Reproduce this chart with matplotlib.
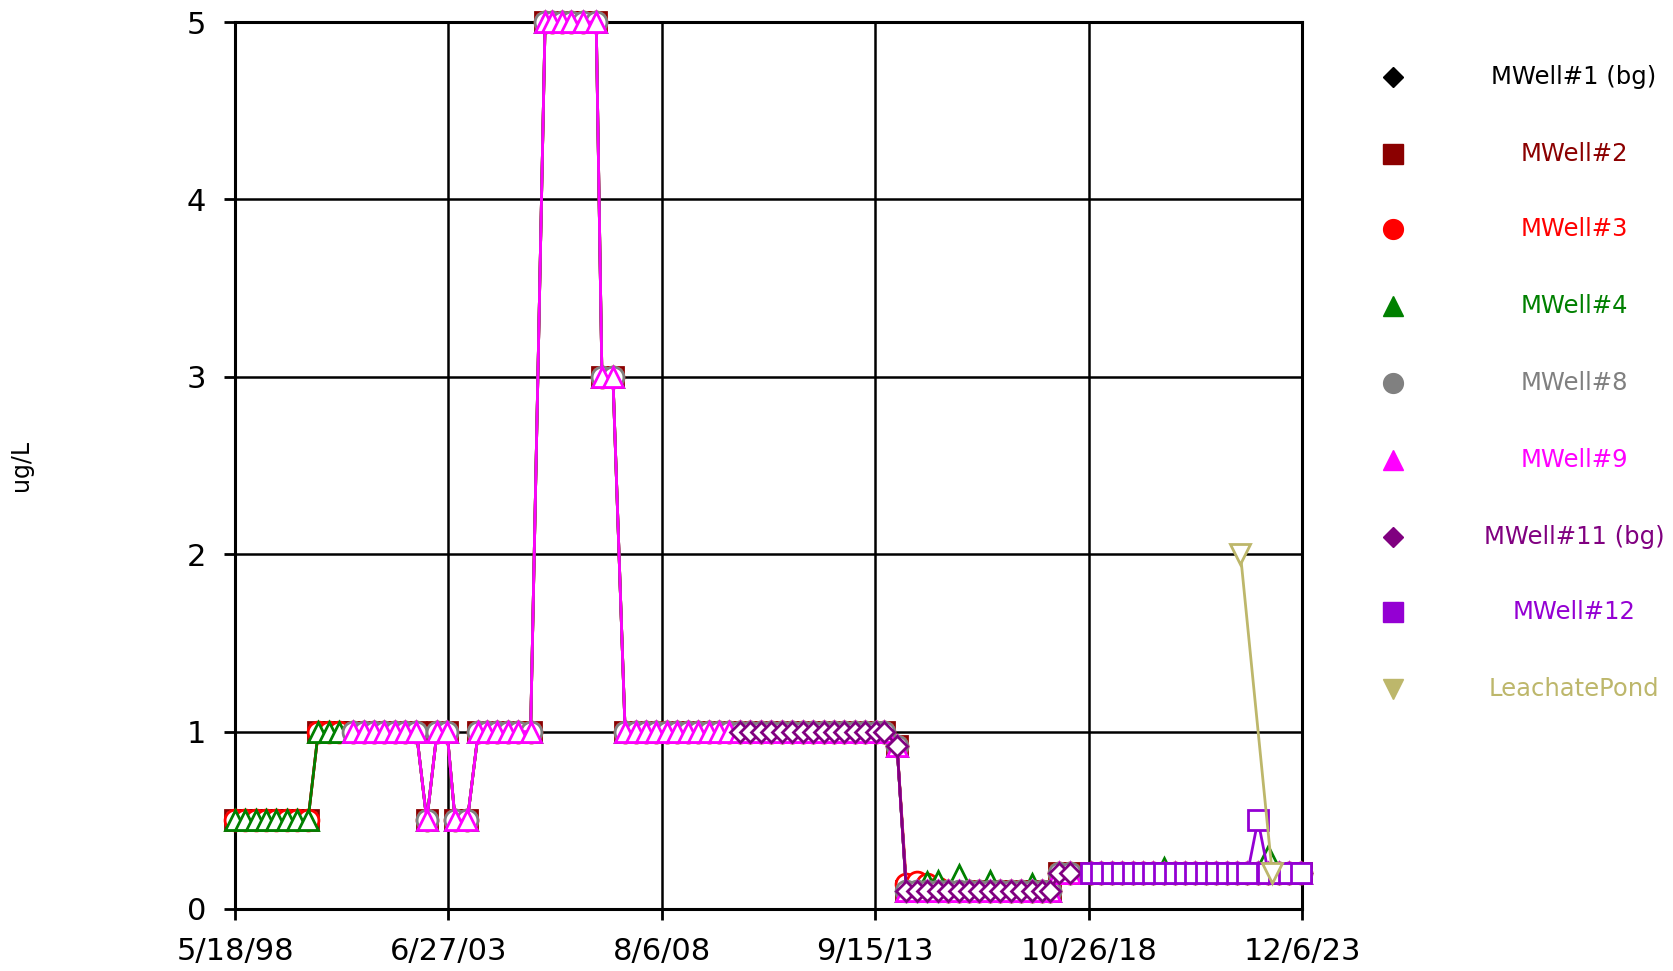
import numpy as np
import pandas as pd
import matplotlib
matplotlib.use("Agg")
import matplotlib.pyplot as plt
import matplotlib.dates as mdates

# sampling dates shared by the wells
sample_dates = [
    # 1998 - 2000
    "1998-05-18", "1998-08-15", "1998-11-15", "1999-02-15", "1999-05-15", "1999-08-15",
    "1999-11-15", "2000-02-15", "2000-05-15", "2000-08-15", "2000-11-15",
    # 2001 - mid 2005
    "2001-03-15", "2001-06-15", "2001-09-15", "2001-12-15", "2002-03-15", "2002-06-15",
    "2002-09-20", "2002-12-20", "2003-03-20", "2003-06-15", "2003-08-25", "2003-12-10",
    "2004-03-15", "2004-06-01", "2004-08-25", "2004-11-25", "2005-03-01", "2005-06-15",
    # high values 2005 - 2007
    "2005-10-20", "2005-12-20", "2006-03-15", "2006-06-05", "2006-09-15", "2007-01-10",
    "2007-03-01", "2007-06-05",
    # 2007 - 2013
    "2007-09-20", "2007-12-20", "2008-03-20", "2008-06-20", "2008-09-20", "2008-12-20",
    "2009-03-20", "2009-06-20", "2009-09-20", "2009-12-20", "2010-03-20",
    "2010-06-20", "2010-09-20", "2010-12-20", "2011-03-20", "2011-06-20", "2011-09-20",
    "2011-12-20", "2012-03-20", "2012-06-20", "2012-09-20", "2012-12-20", "2013-03-20",
    "2013-06-20", "2013-09-20", "2013-12-01",
    "2014-03-25",
    # 2014 - 2017
    "2014-06-15", "2014-09-15", "2014-12-15", "2015-03-15", "2015-06-15", "2015-09-15",
    "2015-12-15", "2016-03-15", "2016-06-15", "2016-09-15", "2016-12-15", "2017-03-15",
    "2017-06-15", "2017-09-15", "2017-11-20",
    "2018-02-10", "2018-05-20",
    # 2018 - 2023
    "2018-11-15", "2019-02-15", "2019-05-15", "2019-08-15", "2019-11-15", "2020-02-15",
    "2020-05-15", "2020-08-15", "2020-11-15", "2021-02-15", "2021-05-15", "2021-08-15",
    "2021-11-15", "2022-02-15", "2022-05-15", "2022-08-15", "2022-11-15", "2023-02-15",
    "2023-05-15", "2023-08-15", "2023-11-25",
]

mid_values = [1, 1, 1, 1, 1, 1, 1, 0.5, 1, 1, 0.5, 0.5, 1, 1, 1, 1, 1, 1]
high_values = [5, 5, 5, 5, 5, 5, 3, 3]

mwell1 = ([None] * 37 + [None] * 11 + [1] * 15 + [0.92] + [0.1] * 15 + [0.2] * 2
          + [0.2] * 21)
mwell2 = ([0.5] * 8 + [1] * 3 + mid_values + high_values + [1] * 26 + [0.92]
          + [0.1] * 15 + [0.2] * 2 + [0.2] * 21)
mwell3 = ([0.5] * 8 + [1] * 3 + mid_values + high_values + [1] * 26 + [0.92]
          + [0.14, 0.15, 0.14, 0.12, 0.1, 0.1, 0.1, 0.1, 0.1, 0.1, 0.1, 0.1, 0.1, 0.1, 0.1]
          + [0.2] * 2 + [0.2] * 21)
mwell4 = ([0.5] * 8 + [1] * 3 + mid_values + high_values + [1] * 26 + [0.92]
          + [0.1, 0.1, 0.15, 0.16, 0.1, 0.19, 0.1, 0.1, 0.16, 0.1, 0.1, 0.1, 0.14, 0.1, 0.1]
          + [0.2] * 2
          + [0.2, 0.2, 0.2, 0.2, 0.2, 0.2, 0.2, 0.23, 0.2, 0.2, 0.2, 0.2, 0.2, 0.2, 0.2, 0.2,
             0.2, 0.3, 0.2, 0.2, 0.2])
mwell8 = ([None] * 11 + mid_values + high_values + [1] * 26 + [0.92]
          + [0.1] * 15 + [0.2] * 2 + [0.2] * 21)
mwell9 = ([None] * 11 + mid_values + high_values + [1] * 26 + [0.92]
          + [0.1] * 15 + [0.2] * 2 + [0.2] * 21)
mwell11 = ([None] * 37 + [None] * 11 + [1] * 15 + [0.92] + [0.1] * 15 + [0.2] * 2
           + [0.2] * 21)
mwell12 = [None] * 81 + [0.2] * 16 + [0.5] + [0.2] * 4

pond_dates = ["2022-06-15", "2023-03-20"]
pond_values = [2.0, 0.2]

names = ["MWell#1 (bg)", "MWell#2", "MWell#3", "MWell#4", "MWell#8", "MWell#9",
         "MWell#11 (bg)", "MWell#12", "LeachatePond"]
colors = ["#000000", "#8B0000", "#FF0000", "#008000", "#808080", "#FF00FF",
          "#800080", "#9400D3", "#BDB76B"]
markers = ["D", "s", "o", "^", "o", "^", "D", "s", "v"]
msizes = [10.6, 15, 15, 15, 15, 15, 10.6, 15, 15]

tick_labels = ["5/18/98", "6/27/03", "8/6/08", "9/15/13", "10/26/18", "12/6/23"]

df = pd.DataFrame({
    "MWell#1 (bg)": mwell1, "MWell#2": mwell2, "MWell#3": mwell3, "MWell#4": mwell4,
    "MWell#8": mwell8, "MWell#9": mwell9, "MWell#11 (bg)": mwell11, "MWell#12": mwell12,
}, index=pd.to_datetime(sample_dates), dtype=float)
pond = pd.Series(pond_values, index=pd.to_datetime(pond_dates))

fig = plt.figure(figsize=(16.73, 9.71), dpi=100)
ax = fig.add_axes([0.1405, 0.0639, 0.6378, 0.9134])

for i, name in enumerate(names):
    if name == "LeachatePond":
        s = pond
    else:
        s = df[name].dropna()
    ax.plot(s.index, s.values, color=colors[i], lw=2, marker=markers[i], ms=msizes[i],
            mfc="white", mec=colors[i], mew=2, clip_on=False, zorder=3 + i)

x0 = mdates.date2num(pd.Timestamp("1998-05-18"))
x1 = mdates.date2num(pd.Timestamp("2023-12-06"))
ax.set_xlim(x0, x1)
ax.set_ylim(0, 5)
ax.set_xticks(np.linspace(x0, x1, len(tick_labels)))
ax.set_xticklabels(tick_labels)
ax.set_yticks([0, 1, 2, 3, 4, 5])
ax.tick_params(axis="both", labelsize=22, direction="out", length=8, width=2, color="black")
ax.tick_params(axis="y", pad=13)
ax.tick_params(axis="x", pad=12)
ax.grid(True, color="black", lw=1.8)
ax.set_axisbelow(True)
for sp in ax.spines.values():
    sp.set_linewidth(2.2)
ax.set_ylabel("ug/L", fontsize=17)
ax.yaxis.set_label_coords(-0.189, 0.5)

# legend drawn on the right, text centred like the original
lax = fig.add_axes([0, 0, 1, 1])
lax.set_axis_off()
lax.patch.set_alpha(0)
lax.set_xlim(0, 1673)
lax.set_ylim(971, 0)
row_y = [77, 154, 229, 306, 383, 460, 537, 612, 689]
for i, name in enumerate(names):
    lax.plot([1393], [row_y[i]], linestyle="none", marker=markers[i],
             ms=msizes[i] * 0.95, color=colors[i])
    lax.text(1574, row_y[i], name, ha="center", va="center", fontsize=17.5, color=colors[i])

fig.savefig("out.png", dpi=100)
